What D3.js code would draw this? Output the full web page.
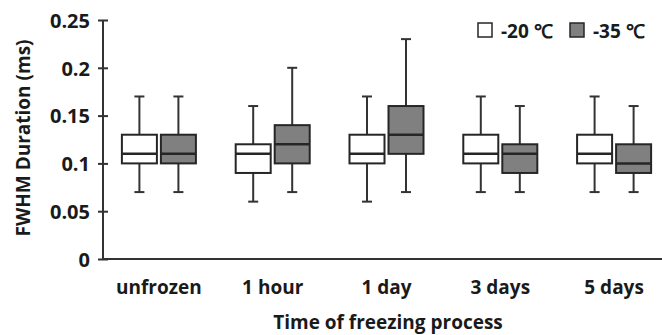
<!DOCTYPE html>
<html>
<head>
<meta charset="utf-8">
<script src="https://cdn.jsdelivr.net/npm/d3@7"></script>
<style>
  body { margin: 0; background: #fff; }
  svg text { font-family: "Open Sans", sans-serif; font-weight: bold; fill: #1a1a1a; }
</style>
</head>
<body>
<svg id="chart" width="662" height="335"></svg>
<script>
// categories on the x axis
var categories = ["unfrozen", "1 hour", "1 day", "3 days", "5 days"];
var series = ["-20 \u2103", "-35 \u2103"];
var seriesFill = ["#ffffff", "#808080"];

// [min, q1, median, q3, max] per category
var minus20 = [
  [0.07, 0.10, 0.11, 0.13, 0.17],
  [0.06, 0.09, 0.11, 0.12, 0.16],
  [0.06, 0.10, 0.11, 0.13, 0.17],
  [0.07, 0.10, 0.11, 0.13, 0.17],
  [0.07, 0.10, 0.11, 0.13, 0.17]
];
var minus35 = [
  [0.07, 0.10, 0.11, 0.13, 0.17],
  [0.07, 0.10, 0.12, 0.14, 0.20],
  [0.07, 0.11, 0.13, 0.16, 0.23],
  [0.07, 0.09, 0.11, 0.12, 0.16],
  [0.07, 0.09, 0.10, 0.12, 0.16]
];

var yTicks = [0, 0.05, 0.1, 0.15, 0.2, 0.25];

var svg = d3.select("#chart");
var axisColor = "#333";

var x0 = d3.scaleBand().domain(categories).range([102, 671]);
var x1 = d3.scaleBand().domain(series).range([0, x0.bandwidth()])
  .paddingInner(0.1026).paddingOuter(0.51);
var y = d3.scaleLinear().domain([0, 0.25]).range([259, 20]);

// y axis
var yAxis = svg.append("g")
  .attr("transform", "translate(103,0)")
  .call(d3.axisLeft(y).tickValues(yTicks).tickFormat(function(d){ return d3.format("")(+d.toFixed(2)); })
        .tickSize(5).tickPadding(8));
yAxis.select(".domain").attr("stroke", axisColor).attr("stroke-width", 2)
  .attr("d", "M0," + y(0.25) + "V" + y(0));
yAxis.selectAll(".tick line").attr("x1", 5).attr("x2", -5).attr("stroke", axisColor).attr("stroke-width", 2);
yAxis.selectAll(".tick text").style("font-size", "20px").attr("dy", "0.36em");

// x axis
var xAxis = svg.append("g")
  .attr("transform", "translate(0," + y(0) + ")")
  .call(d3.axisBottom(x0).tickSize(0).tickPadding(22));
xAxis.select(".domain").attr("stroke", axisColor).attr("stroke-width", 2)
  .attr("d", "M103,0H662");
xAxis.selectAll(".tick text").style("font-size", "19px");

// boxes
var boxW = x1.bandwidth();
var capW = 10;
var data = [];
categories.forEach(function(c, i){
  data.push({cat: c, s: series[0], fill: seriesFill[0], v: minus20[i]});
  data.push({cat: c, s: series[1], fill: seriesFill[1], v: minus35[i]});
});

var g = svg.append("g");
var box = g.selectAll(".box").data(data).enter().append("g")
  .attr("class", "box")
  .attr("transform", function(d){ return "translate(" + (x0(d.cat) + x1(d.s)) + ",0)"; });

// whiskers
box.append("line")
  .attr("x1", boxW / 2).attr("x2", boxW / 2)
  .attr("y1", function(d){ return y(d.v[4]); }).attr("y2", function(d){ return y(d.v[3]); })
  .attr("stroke", axisColor).attr("stroke-width", 2);
box.append("line")
  .attr("x1", boxW / 2).attr("x2", boxW / 2)
  .attr("y1", function(d){ return y(d.v[1]); }).attr("y2", function(d){ return y(d.v[0]); })
  .attr("stroke", axisColor).attr("stroke-width", 2);
// caps
[0, 4].forEach(function(k){
  box.append("line")
    .attr("x1", boxW / 2 - capW / 2).attr("x2", boxW / 2 + capW / 2)
    .attr("y1", function(d){ return y(d.v[k]); }).attr("y2", function(d){ return y(d.v[k]); })
    .attr("stroke", axisColor).attr("stroke-width", 2);
});
// box body
box.append("rect")
  .attr("x", 0).attr("width", boxW)
  .attr("y", function(d){ return y(d.v[3]); })
  .attr("height", function(d){ return y(d.v[1]) - y(d.v[3]); })
  .attr("fill", function(d){ return d.fill; })
  .attr("stroke", "#262626").attr("stroke-width", 2);
// median
box.append("line")
  .attr("x1", 0).attr("x2", boxW)
  .attr("y1", function(d){ return y(d.v[2]); }).attr("y2", function(d){ return y(d.v[2]); })
  .attr("stroke", "#262626").attr("stroke-width", 2.5);

// axis titles
svg.append("text")
  .attr("transform", "translate(30,138) rotate(-90)")
  .attr("text-anchor", "middle")
  .style("font-size", "19px")
  .text("FWHM Duration (ms)");
svg.append("text")
  .attr("x", 388).attr("y", 329)
  .attr("text-anchor", "middle")
  .style("font-size", "19px")
  .text("Time of freezing process");

// legend
var legendX = [478, 570];
var legend = svg.append("g").selectAll("g").data(series).enter().append("g")
  .attr("transform", function(d, i){ return "translate(" + legendX[i] + ",23)"; });
legend.append("rect")
  .attr("width", 14).attr("height", 14)
  .attr("fill", function(d, i){ return seriesFill[i]; })
  .attr("stroke", "#262626").attr("stroke-width", 1.5);
legend.append("text")
  .attr("x", 23).attr("y", 14.5)
  .style("font-size", "19px")
  .text(function(d){ return d; });
</script>
</body>
</html>
